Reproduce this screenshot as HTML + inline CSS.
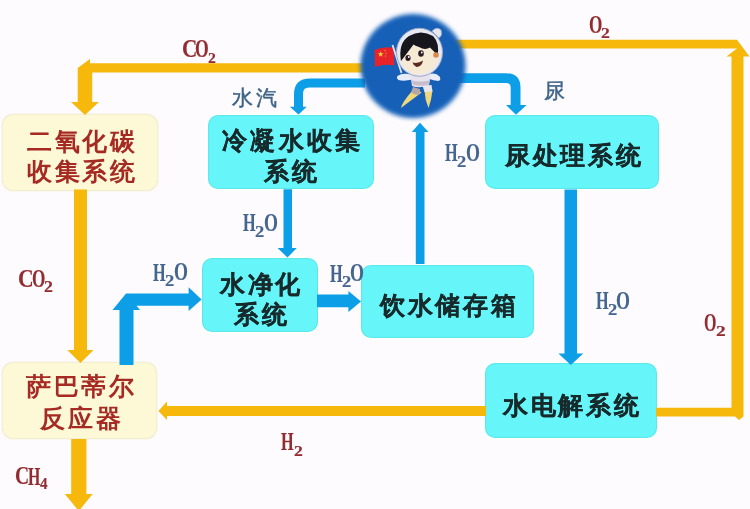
<!DOCTYPE html>
<html><head><meta charset="utf-8">
<style>
html,body{margin:0;padding:0;}
body{width:750px;height:509px;position:relative;overflow:hidden;background:#fdfbfd;font-family:"Liberation Sans",sans-serif;}
svg.bg{position:absolute;left:0;top:0;}
.box{position:absolute;border-radius:10px;box-sizing:border-box;}
.cy{background:#66f6fa;box-shadow:inset 0 0 1px 1px rgba(70,205,215,0.35),0 0 2px 1.5px #ffffff;}
.cr{background:#fdf9d6;box-shadow:0 0 1.5px 1px #efeac6;}
.t{position:absolute;font-size:24.5px;font-weight:bold;letter-spacing:2.7px;white-space:nowrap;line-height:30px;-webkit-text-stroke:0.3px currentColor;}
.dk{color:#172a2c;}
.rd{color:#a62a24;-webkit-text-stroke:0;}
.g{position:absolute;font-family:"Liberation Serif",serif;font-weight:bold;white-space:nowrap;transform-origin:0 0;-webkit-text-stroke:0.15px currentColor;}
.lab sub{font-size:15px;vertical-align:-6px;}
.lb{color:#4a6b98;}
.lr{color:#9e2a26;}
.cn{position:absolute;font-size:20.5px;color:#3e6488;white-space:nowrap;line-height:1;letter-spacing:2.5px;-webkit-text-stroke:0.45px currentColor;}
.wrap{position:absolute;left:0;top:0;width:750px;height:509px;filter:blur(0.3px);}
</style></head><body><div class="wrap">


<div class="box cr" style="left:3px;top:114.5px;width:154px;height:75px;"></div>
<div class="box cy" style="left:208px;top:114.5px;width:166px;height:74.5px;"></div>
<div class="box cy" style="left:485px;top:114.7px;width:174px;height:74.6px;"></div>
<div class="box cy" style="left:202px;top:258px;width:116px;height:74.3px;"></div>
<div class="box cy" style="left:361px;top:264.7px;width:173px;height:73.8px;"></div>
<div class="box cr" style="left:3px;top:363px;width:153px;height:75px;"></div>
<div class="box cy" style="left:485px;top:362.8px;width:171.6px;height:74.8px;"></div>

<svg class="bg" width="750" height="509" viewBox="0 0 750 509">
  <!-- orange top-left L: circle to CO2 box -->
  <polygon fill="#f6b80a" points="368,63.3 90,63.3 90,59 77.7,68 77.7,102 71,102 85,115 99,102 92.2,102 92.2,72.6 368,72.6"/>
  <!-- left vertical orange CO2 box -> Sabatier -->
  <polygon fill="#f6b80a" points="74,189.5 87,189.5 87,350 93.5,350 80.5,363 67.3,350 74,350"/>
  <!-- bottom CH4 arrow -->
  <polygon fill="#f6b80a" points="71.2,439 86.4,439 86.4,494 92.6,494 78.8,511 64.8,494 71.2,494"/>
  <!-- top right orange: circle -> right -> down -->
  <polygon fill="#f6b80a" points="455,39.8 737,39.8 749.5,56.4 743.5,56.4 743.5,416.5 739,420 735,416.5 656,416.5 656,407.8 731.5,407.8 731.5,56.4 726.5,56.4 737,48.4 455,48.4"/>
  <!-- H2 arrow: electrolysis -> Sabatier -->
  <polygon fill="#f6b80a" points="486,406 167,406 167,401.5 158.4,411 167,420 167,416 486,416"/>
  <!-- blue: circle -> condensate -->
  <path fill="#0c9fe7" d="M365,78.5 L310,78.5 Q294,78.5 294,94.5 L294,106.8 L289.8,106.8 L298.5,114.5 L306.8,106.8 L303,106.8 L303,93.5 Q303,87.5 309,87.5 L365,87.5 Z"/>
  <!-- blue: circle -> urine -->
  <path fill="#0c9fe7" d="M455,73.3 L506,73.3 Q520.5,73.3 520.5,87.8 L520.5,105 L526.6,105 L516,114.7 L506,105 L510.7,105 L510.7,87.5 Q510.7,83 506,83 L455,83 Z"/>
  <!-- condensate -> purification -->
  <polygon fill="#0c9fe7" points="283.5,189.3 292,189.3 292,248 296.8,248 287.5,257.5 277.6,248 283.5,248"/>
  <!-- storage -> circle -->
  <polygon fill="#0c9fe7" points="415.8,264 424.5,264 424.5,132 428.5,132 420,122.7 411.8,132 415.8,132"/>
  <!-- sabatier -> purification L -->
  <polygon fill="#0c9fe7" points="119.5,365 119.5,310 112.5,310 126,293.5 188.6,293.5 188.6,287.3 201.6,299.5 188.6,311 188.6,305.7 136.5,305.7 140,310 133.5,310 133.5,365"/>
  <!-- purification -> storage -->
  <polygon fill="#0c9fe7" points="317,294.4 348.4,294.4 348.4,291 361,301.5 348.4,312 348.4,307.2 317,307.2"/>
  <!-- urine -> electrolysis -->
  <polygon fill="#0c9fe7" points="564.5,189.5 577,189.5 577,353.6 583.3,353.6 570.8,365 558.4,353.6 564.5,353.6"/>
</svg>
<div class="t rd" style="left:27px;top:127px;">二氧化碳</div>
<div class="t rd" style="left:27px;top:156.5px;">收集系统</div>
<div class="t dk" style="left:222px;top:126px;letter-spacing:3.3px">冷凝水收集</div>
<div class="t dk" style="left:264px;top:156.5px;">系统</div>
<div class="t dk" style="left:505px;top:140.5px;">尿处理系统</div>
<div class="t dk" style="left:220px;top:270px;">水净化</div>
<div class="t dk" style="left:234px;top:300px;">系统</div>
<div class="t dk" style="left:380px;top:290.5px;">饮水储存箱</div>
<div class="t rd" style="left:26px;top:371.5px;">萨巴蒂尔</div>
<div class="t rd" style="left:40px;top:403.5px;letter-spacing:3.2px">反应器</div>
<div class="t dk" style="left:503px;top:391px;">水电解系统</div>

<!-- circle -->
<svg style="position:absolute;left:0;top:0;" width="750" height="509" viewBox="0 0 750 509">
  <defs>
    <filter id="bl" x="-20%" y="-20%" width="140%" height="140%"><feGaussianBlur stdDeviation="2.2"/></filter>
    <filter id="sb"><feGaussianBlur stdDeviation="0.5"/></filter>
  </defs>
  <ellipse cx="413" cy="66" rx="52.5" ry="52" fill="#1461b8" filter="url(#bl)"/>
  <g filter="url(#sb)">
  <!-- flag -->
  <path d="M374.5,50 Q384,46 393.5,48 L394.5,65.5 Q385,63.5 375,67 Z" fill="#e8232a"/>
  <path d="M380.5,51 l0.9,2.2 2.3,0 -1.8,1.4 0.7,2.2 -1.9,-1.3 -1.9,1.3 0.7,-2.2 -1.8,-1.4 2.3,0z" fill="#f6d23a"/><circle cx="385" cy="50.5" r="0.6" fill="#f6d23a"/><circle cx="386" cy="53" r="0.6" fill="#f6d23a"/><circle cx="385.5" cy="56" r="0.6" fill="#f6d23a"/>
  <line x1="392.5" y1="45" x2="401.5" y2="73" stroke="#e4e6ee" stroke-width="1.8"/>
  <!-- legs -->
  <path d="M412.5,90.5 Q417,89 421.5,92.5 L401,108 Q401.5,103 412.5,90.5 Z" fill="#efd77c"/>
  <path d="M413,87 L420,89 L419.5,94.5 Q415.5,95.5 411,92.5 Z" fill="#b7a6a6"/>
  <path d="M424.5,91 L432.5,90.5 Q431.5,100 428.5,108 Q425,100 424.5,91 Z" fill="#efd77c"/>
  <path d="M422.5,85.5 L431.5,85 L432.5,91.5 L424.5,92 Z" fill="#e9e6ee"/>
  <!-- arms/torso -->
  <path d="M397.5,76 Q402,72.5 411,74.5 L412.5,79.5 Q404,81.5 398.5,80 Q396,78 397.5,76 Z" fill="#e6ecf8"/>
  <path d="M430,74 Q436,72.5 439.5,76.5 Q441.5,80 438.5,81 Q433,80.5 429.5,79 Z" fill="#e6ecf8"/>
  <path d="M410,73 Q420,70.5 431,73 L429,85 Q420,89 412,86 Z" fill="#e7e3ee"/>
  <path d="M412,80.5 Q420,82.5 429.5,80.5 L429,84.5 Q420,87 412.5,84.5 Z" fill="#c9bccb"/>
  <!-- helmet -->
  <ellipse cx="419.5" cy="52.3" rx="23" ry="24" fill="#e6e9f3" stroke="#a1a8ba" stroke-width="1"/>
  <path d="M432,31 Q437,26 441,30 Q443,35 439,38 Z" fill="#e6e9f3" stroke="#a1a8ba" stroke-width="0.8"/>
  <!-- face -->
  <ellipse cx="419.2" cy="55" rx="18.8" ry="19.5" fill="#f7ead4"/>
  <!-- hair -->
  <path d="M401,61 Q398,43 409,36 Q421,29 433,36 Q440,43 437.5,57 Q434.5,51 430,47.5 Q425,50.5 419,47 Q415,45.5 413.5,44.5 Q408,52 401,61 Z" fill="#15121a"/>
  <circle cx="436" cy="55" r="2.8" fill="#d98a4a"/>
  <!-- eyes -->
  <ellipse cx="408" cy="58" rx="2.6" ry="3" fill="#2a1f24"/>
  <ellipse cx="421" cy="53.5" rx="2.8" ry="3.2" fill="#2a1f24"/>
  <circle cx="408.8" cy="57" r="0.9" fill="#fff"/>
  <circle cx="421.8" cy="52.5" r="0.9" fill="#fff"/>
  <!-- mouth -->
  <path d="M412.5,62.5 Q418,64 423,60.5 Q422,67 416.5,67 Q413.5,66 412.5,62.5 Z" fill="#5a2a26"/>
  </g>
</svg>
<div class="cn" style="left:232px;top:87.5px;">水汽</div>
<div class="cn" style="left:543.5px;top:81px;">尿</div>

<!--LABELS-->
<div class="g" style="left:181.84px;top:35.79px;font-size:25.61px;line-height:25.61px;transform:scaleX(0.827);color:#922c30">C</div>
<div class="g" style="left:194.72px;top:35.81px;font-size:25.52px;line-height:25.52px;transform:scaleX(0.691);color:#922c30">O</div>
<div class="g" style="left:207.77px;top:49.82px;font-size:15.45px;line-height:15.45px;transform:scaleX(1.017);color:#922c30">2</div>
<div class="g" style="left:588.64px;top:12.13px;font-size:25.37px;line-height:25.37px;transform:scaleX(0.678);color:#922c30">O</div>
<div class="g" style="left:601.20px;top:26.40px;font-size:15.00px;line-height:15.00px;transform:scaleX(1.175);color:#922c30">2</div>
<div class="g" style="left:243.38px;top:210.00px;font-size:25.54px;line-height:25.54px;transform:scaleX(0.635);color:#44658f">H</div>
<div class="g" style="left:255.36px;top:223.56px;font-size:15.76px;line-height:15.76px;transform:scaleX(1.179);color:#44658f">2</div>
<div class="g" style="left:263.80px;top:209.65px;font-size:25.82px;line-height:25.82px;transform:scaleX(0.695);color:#44658f">O</div>
<div class="g" style="left:445.48px;top:140.40px;font-size:25.54px;line-height:25.54px;transform:scaleX(0.635);color:#44658f">H</div>
<div class="g" style="left:457.46px;top:153.96px;font-size:15.76px;line-height:15.76px;transform:scaleX(1.179);color:#44658f">2</div>
<div class="g" style="left:465.90px;top:140.05px;font-size:25.82px;line-height:25.82px;transform:scaleX(0.695);color:#44658f">O</div>
<div class="g" style="left:153.48px;top:259.80px;font-size:25.54px;line-height:25.54px;transform:scaleX(0.635);color:#44658f">H</div>
<div class="g" style="left:165.46px;top:273.36px;font-size:15.76px;line-height:15.76px;transform:scaleX(1.179);color:#44658f">2</div>
<div class="g" style="left:173.90px;top:259.45px;font-size:25.82px;line-height:25.82px;transform:scaleX(0.695);color:#44658f">O</div>
<div class="g" style="left:329.98px;top:260.80px;font-size:25.54px;line-height:25.54px;transform:scaleX(0.635);color:#44658f">H</div>
<div class="g" style="left:341.96px;top:274.36px;font-size:15.76px;line-height:15.76px;transform:scaleX(1.179);color:#44658f">2</div>
<div class="g" style="left:350.40px;top:260.45px;font-size:25.82px;line-height:25.82px;transform:scaleX(0.695);color:#44658f">O</div>
<div class="g" style="left:595.78px;top:288.10px;font-size:25.54px;line-height:25.54px;transform:scaleX(0.635);color:#44658f">H</div>
<div class="g" style="left:607.76px;top:301.66px;font-size:15.76px;line-height:15.76px;transform:scaleX(1.179);color:#44658f">2</div>
<div class="g" style="left:616.20px;top:287.75px;font-size:25.82px;line-height:25.82px;transform:scaleX(0.695);color:#44658f">O</div>
<div class="g" style="left:18.32px;top:265.88px;font-size:26.21px;line-height:26.21px;transform:scaleX(0.828);color:#922c30">C</div>
<div class="g" style="left:31.64px;top:265.95px;font-size:25.82px;line-height:25.82px;transform:scaleX(0.666);color:#922c30">O</div>
<div class="g" style="left:43.79px;top:278.55px;font-size:16.97px;line-height:16.97px;transform:scaleX(1.052);color:#922c30">2</div>
<div class="g" style="left:704.30px;top:309.65px;font-size:25.82px;line-height:25.82px;transform:scaleX(0.621);color:#922c30">O</div>
<div class="g" style="left:715.92px;top:322.82px;font-size:15.45px;line-height:15.45px;transform:scaleX(1.263);color:#922c30">2</div>
<div class="g" style="left:281.48px;top:429.10px;font-size:25.54px;line-height:25.54px;transform:scaleX(0.635);color:#922c30">H</div>
<div class="g" style="left:294.20px;top:442.92px;font-size:15.45px;line-height:15.45px;transform:scaleX(1.140);color:#922c30">2</div>
<div class="g" style="left:15.42px;top:462.98px;font-size:26.21px;line-height:26.21px;transform:scaleX(0.750);color:#922c30">C</div>
<div class="g" style="left:28.08px;top:463.89px;font-size:25.08px;line-height:25.08px;transform:scaleX(0.630);color:#922c30">H</div>
<div class="g" style="left:40.25px;top:476.38px;font-size:16.77px;line-height:16.77px;transform:scaleX(0.901);color:#922c30">4</div>
<!--/LABELS-->
</div></body></html>
